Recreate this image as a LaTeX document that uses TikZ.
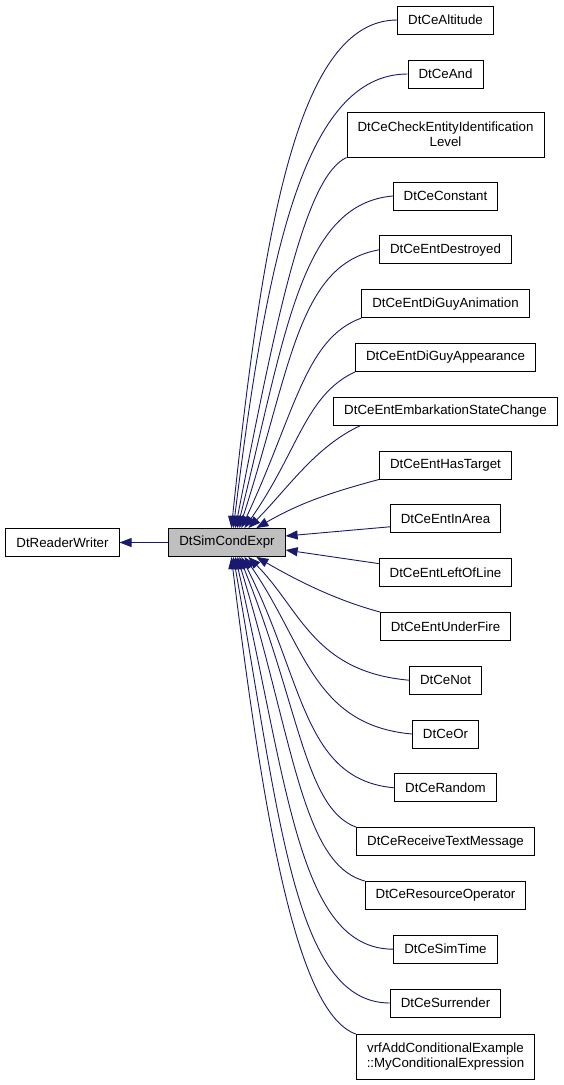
\documentclass[tikz,border=0pt]{standalone}
\usepackage{fontspec}
\setmainfont{Liberation Sans}
\usepackage{tikz}
\definecolor{ee}{RGB}{25, 25, 112}
\definecolor{gg}{RGB}{191, 191, 191}
\usetikzlibrary{arrows.meta}

\begin{document}
\begin{tikzpicture}[
  every node/.style={font=\fontsize{13.3}{15}\selectfont},
  cls/.style={rectangle, draw=black, line width=0.9pt, fill=white, inner xsep=10.5pt, inner ysep=2pt, minimum height=28pt},
  cls2/.style={cls, align=center, minimum height=45pt},
  edge/.style={line width=0.9pt, color=ee, -{Triangle[length=12pt, width=9pt]}}]
\useasboundingbox (0pt, 0pt) rectangle (563pt, -1085pt);
\node (1) [cls] at (62.5pt, -542.5pt) {DtReaderWriter};
\node (2) [cls, fill=gg] at (227pt, -542.5pt) {DtSimCondExpr};
\node (3) [cls] at (445.5pt, -20pt) {DtCeAltitude};
\node (4) [cls] at (445.5pt, -74pt) {DtCeAnd};
\node (5) [cls2] at (445.5pt, -134.5pt) {DtCeCheckEntityIdentification\\Level};
\node (6) [cls] at (445.5pt, -196pt) {DtCeConstant};
\node (7) [cls] at (445.5pt, -249.8pt) {DtCeEntDestroyed};
\node (8) [cls] at (445.5pt, -303.6pt) {DtCeEntDiGuyAnimation};
\node (9) [cls] at (445.5pt, -357.4pt) {DtCeEntDiGuyAppearance};
\node (10) [cls] at (445.5pt, -411.2pt) {DtCeEntEmbarkationStateChange};
\node (11) [cls] at (445.5pt, -465pt) {DtCeEntHasTarget};
\node (12) [cls] at (445.5pt, -518.8pt) {DtCeEntInArea};
\node (13) [cls] at (445.5pt, -572.6pt) {DtCeEntLeftOfLine};
\node (14) [cls] at (445.5pt, -626.4pt) {DtCeEntUnderFire};
\node (15) [cls] at (445.5pt, -680.2pt) {DtCeNot};
\node (16) [cls] at (445.5pt, -734pt) {DtCeOr};
\node (17) [cls] at (445.5pt, -787.8pt) {DtCeRandom};
\node (18) [cls] at (445.5pt, -841.6pt) {DtCeReceiveTextMessage};
\node (19) [cls] at (445.5pt, -895.4pt) {DtCeResourceOperator};
\node (20) [cls] at (445.5pt, -949.2pt) {DtCeSimTime};
\node (21) [cls] at (445.5pt, -1003pt) {DtCeSurrender};
\node (22) [cls2] at (445.5pt, -1057pt) {vrfAddConditionalExample\\::MyConditionalExpression};
\draw [edge] (2) -- (1);
\draw [edge] (3.west) .. controls +(180:99pt) and +(84:305pt) .. ([xshift=63pt]2.north west);
\draw [edge] (4.west) .. controls +(180:104pt) and +(83:272pt) .. ([xshift=65pt]2.north west);
\draw [edge] (5.south west) .. controls +(205:45pt) and +(79:223pt) .. ([xshift=67pt]2.north west);
\draw [edge] (6.west) .. controls +(185:93pt) and +(76:199pt) .. ([xshift=69pt]2.north west);
\draw [edge] (7.west) .. controls +(190:83pt) and +(72:167pt) .. ([xshift=71pt]2.north west);
\draw [edge] (8.south west) .. controls +(200:60pt) and +(65:128pt) .. ([xshift=73pt]2.north west);
\draw [edge] (9.south west) .. controls +(205:55pt) and +(55:94pt) .. ([xshift=76pt]2.north west);
\draw [edge] ([xshift=27pt]10.south west) .. controls +(205:50pt) and +(45:55pt) .. ([xshift=80pt]2.north west);
\draw [edge] (11.south west) .. controls +(195:50pt) and +(30:50pt) .. ([xshift=88pt]2.north west);
\draw [edge] ([yshift=-8pt]12.west) -- ([yshift=6.5pt]2.east);
\draw [edge] ([yshift=9pt]13.west) -- ([yshift=-7.5pt]2.east);
\draw [edge] (14.north west) .. controls +(165:50pt) and +(-30:40pt) .. ([xshift=88pt]2.south west);
\draw [edge] (15.west) .. controls +(175:96pt) and +(-45:73pt) .. ([xshift=80pt]2.south west);
\draw [edge] (16.west) .. controls +(175:100pt) and +(-55:105pt) .. ([xshift=76pt]2.south west);
\draw [edge] (17.west) .. controls +(175:92pt) and +(-63:138pt) .. ([xshift=73pt]2.south west);
\draw [edge] (18.north west) .. controls +(160:55pt) and +(-68:161pt) .. ([xshift=71pt]2.south west);
\draw [edge] (19.north west) .. controls +(165:65pt) and +(-73:194pt) .. ([xshift=69pt]2.south west);
\draw [edge] (20.west) .. controls +(180:95pt) and +(-77:235pt) .. ([xshift=67pt]2.south west);
\draw [edge] (21.west) .. controls +(180:95pt) and +(-80:268pt) .. ([xshift=65pt]2.south west);
\draw [edge] (22.north west) .. controls +(160:60pt) and +(-83:287pt) .. ([xshift=63pt]2.south west);
\end{tikzpicture}
\end{document}
